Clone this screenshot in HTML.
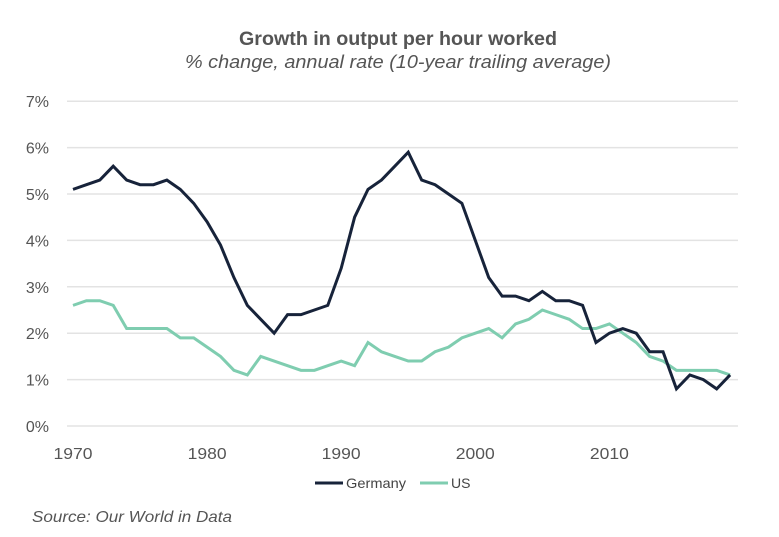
<!DOCTYPE html>
<html><head><meta charset="utf-8"><style>
body{margin:0;background:#fff;font-family:"Liberation Sans",sans-serif}
svg text{font-family:"Liberation Sans",sans-serif}
</style></head><body>
<svg width="779" height="532" id="c">
<text x="398" y="45" text-anchor="middle" font-size="19" font-weight="bold" fill="#555" textLength="318" lengthAdjust="spacingAndGlyphs">Growth in output per hour worked</text>
<text x="398" y="68" text-anchor="middle" font-size="18" font-style="italic" fill="#555" textLength="426" lengthAdjust="spacingAndGlyphs">% change, annual rate (10-year trailing average)</text>
<g id="grid"></g><g id="series"></g>
<g>
<line x1="315" y1="483" x2="343" y2="483" stroke="#17233a" stroke-width="3"/>
<text x="346" y="488" font-size="14" fill="#444" textLength="60" lengthAdjust="spacingAndGlyphs">Germany</text>
<line x1="420" y1="483" x2="448" y2="483" stroke="#7fcdb0" stroke-width="3"/>
<text x="451" y="488" font-size="14" fill="#444">US</text>
</g>
<text x="32" y="522" font-size="16" font-style="italic" fill="#555" textLength="200" lengthAdjust="spacingAndGlyphs">Source: Our World in Data</text>
</svg>
<script>
const years=[];for(let y=1970;y<=2019;y++)years.push(y);
const germany=[5.1,5.2,5.3,5.6,5.3,5.2,5.2,5.3,5.1,4.8,4.4,3.9,3.2,2.6,2.3,2.0,2.4,2.4,2.5,2.6,3.4,4.5,5.1,5.3,5.6,5.9,5.3,5.2,5.0,4.8,4.0,3.2,2.8,2.8,2.7,2.9,2.7,2.7,2.6,1.8,2.0,2.1,2.0,1.6,1.6,0.8,1.1,1.0,0.8,1.1];
const us=[2.6,2.7,2.7,2.6,2.1,2.1,2.1,2.1,1.9,1.9,1.7,1.5,1.2,1.1,1.5,1.4,1.3,1.2,1.2,1.3,1.4,1.3,1.8,1.6,1.5,1.4,1.4,1.6,1.7,1.9,2.0,2.1,1.9,2.2,2.3,2.5,2.4,2.3,2.1,2.1,2.2,2.0,1.8,1.5,1.4,1.2,1.2,1.2,1.2,1.1];
const yTicks=[0,1,2,3,4,5,6,7];
const xTicks=[1970,1980,1990,2000,2010];
const NS="http://www.w3.org/2000/svg";
const X=y=>73+(y-1970)*13.41;
const Y=v=>426-v*46.4;
const grid=document.getElementById('grid'),ser=document.getElementById('series');
function mk(t,a,p){const e=document.createElementNS(NS,t);for(const k in a)e.setAttribute(k,a[k]);p.appendChild(e);return e;}
yTicks.forEach(v=>{
 const l=mk('line',{x1:67,x2:738,y1:Y(v),y2:Y(v),stroke:'#e3e3e3','stroke-width':1.5},grid);
 
 
 const t=mk('text',{x:49,y:Y(v)+6,'text-anchor':'end','font-size':16,fill:'#555'},grid);
 t.textContent=v+'%';
 
 
});
xTicks.forEach(v=>{
 const t=mk('text',{x:X(v),y:459,'text-anchor':'middle','font-size':16,fill:'#555',textLength:39,lengthAdjust:'spacingAndGlyphs'},grid);
 t.textContent=v;
 
 
});
function line(d,c,n){
 const p=mk('polyline',{points:d.map((v,i)=>X(years[i])+','+Y(v)).join(' '),fill:'none',stroke:c,'stroke-width':3,'stroke-linejoin':'miter'},ser);
 
 
}
line(us,'#7fcdb0','us-line');
line(germany,'#17233a','germany-line');
</script>
</body></html>
